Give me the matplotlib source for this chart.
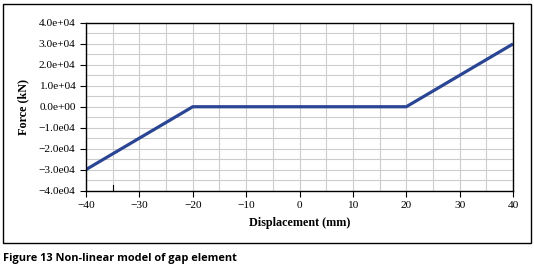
import matplotlib.pyplot as plt
from matplotlib.patches import Rectangle
from matplotlib.ticker import MultipleLocator

# gap element: force vs displacement
disp = [-40, -20, 20, 40]
force = [-30000, 0, 0, 30000]

xticks = [-40, -30, -20, -10, 0, 10, 20, 30, 40]
yticks = [40000, 30000, 20000, 10000, 0, -10000, -20000, -30000, -40000]
ylabels = ['4.0e+04', '3.0e+04', '2.0e+04', '1.0e+04', '0.0e+00',
           '\u22121.0e04', '\u22122.0e04', '\u22123.0e04', '\u22124.0e04']
xlabels = ['\u221240', '\u221230', '\u221220', '\u221210', '0', '10', '20', '30', '40']

plt.rcParams['font.family'] = ['Liberation Serif', 'DejaVu Serif']

fig = plt.figure(figsize=(5.34, 2.68), dpi=100)
ax = fig.add_axes([86 / 534, 1 - 190.5 / 268, 427 / 534, 167.5 / 268])

ax.plot(disp, force, color='#2a4593', lw=2.3, solid_capstyle='butt', zorder=3)

ax.set_xlim(-40, 40)
ax.set_ylim(-40000, 40000)
ax.set_xticks(xticks)
ax.set_xticklabels(xlabels)
ax.set_yticks(yticks)
ax.set_yticklabels(ylabels)
ax.xaxis.set_minor_locator(MultipleLocator(5))
ax.yaxis.set_minor_locator(MultipleLocator(5000))
ax.grid(which='both', color='#cccccc', lw=0.8, zorder=0)
ax.tick_params(which='major', direction='out', length=4, width=0.8, labelsize=8.2, colors='black')
ax.tick_params(which='minor', length=0)
for s in ax.spines.values():
    s.set_linewidth(1.0)
    s.set_zorder(4)

# little stray tick near -35
ax.plot([-35, -35], [0, 0.03], transform=ax.get_xaxis_transform(), color='black', lw=0.8, clip_on=False)

ax.set_xlabel('Displacement (mm)', fontsize=8.7, fontweight='bold', labelpad=5)
ax.set_ylabel('Force (kN)', fontsize=8.7, fontweight='bold', labelpad=7)

fig.patches.append(Rectangle((3 / 534, 1 - 242.5 / 268), 527.5 / 534, 238.5 / 268,
                             transform=fig.transFigure, fill=False, ec='black', lw=1.0))

fig.text(3 / 534, 1 - 258 / 268, 'Figure 13 Non-linear model of gap element',
         family='Open Sans', fontweight='bold', fontsize=7.9, va='center', ha='left')

fig.savefig('out.png', dpi=100)
